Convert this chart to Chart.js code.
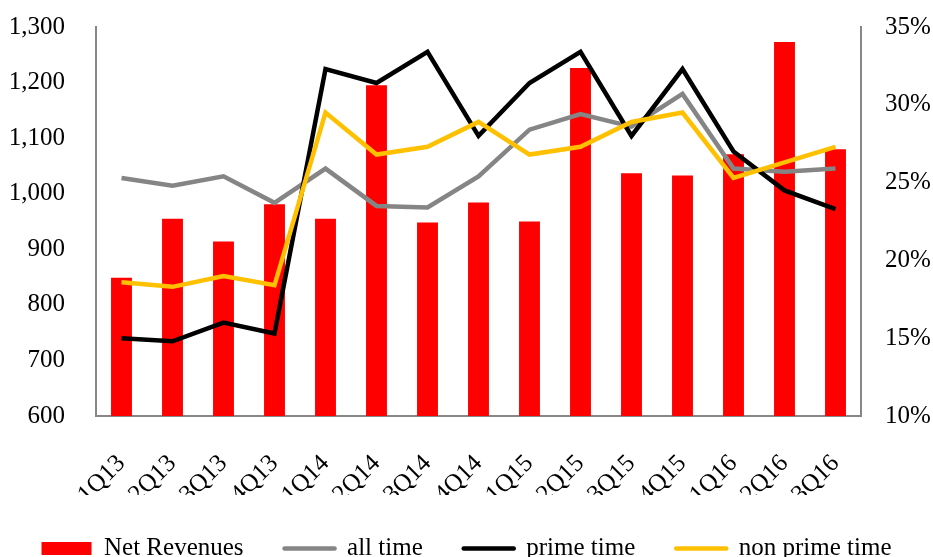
<!DOCTYPE html>
<html>
<head>
<meta charset="utf-8">
<script src="https://cdn.jsdelivr.net/npm/chart.js@4/dist/chart.umd.min.js"></script>
<style>
  html, body { margin: 0; padding: 0; background: #fff; }
  #wrap { width: 933px; height: 557px; }
</style>
</head>
<body>
<div id="wrap"><canvas id="c" width="933" height="557"></canvas></div>
<script>
// Quarterly net revenues (left axis) and audience share by daypart (right axis, %)
const quarters = ['1Q13','2Q13','3Q13','4Q13','1Q14','2Q14','3Q14','4Q14','1Q15','2Q15','3Q15','4Q15','1Q16','2Q16','3Q16'];
const netRevenues = [849, 955, 914, 981, 955, 1195, 948, 984, 950, 1226, 1037, 1033, 1071, 1273, 1080];
const allTime     = [25.3, 24.8, 25.4, 23.7, 25.9, 23.5, 23.4, 25.4, 28.4, 29.4, 28.6, 30.7, 25.9, 25.7, 25.9];
const primeTime   = [15.0, 14.8, 16.0, 15.3, 32.3, 31.4, 33.4, 28.0, 31.4, 33.4, 28.0, 32.3, 27.0, 24.5, 23.3];
const nonPrime    = [18.6, 18.3, 19.0, 18.4, 29.5, 26.8, 27.3, 28.9, 26.8, 27.3, 28.9, 29.5, 25.3, 26.3, 27.3];

const revenueTicks = [600, 700, 800, 900, 1000, 1100, 1200, 1300];
const shareTicks   = [10, 15, 20, 25, 30, 35];

const AXIS_GREY = '#878787';

Chart.defaults.font.family = "'Liberation Serif', 'Times New Roman', serif";
Chart.defaults.font.size = 25;
Chart.defaults.color = '#000';

// Fixed axis sizes; the label gap should not push the plot area down.
function fixWidth(w) {
  return scale => { scale.width = w; scale.paddingTop = 0; scale.paddingBottom = 0; };
}

new Chart(document.getElementById('c'), {
  data: {
    labels: quarters,
    datasets: [
      {
        type: 'bar', label: 'Net Revenues', data: netRevenues, yAxisID: 'y',
        backgroundColor: '#FF0000', borderWidth: 0,
        barPercentage: 0.41, categoryPercentage: 1.0, order: 4
      },
      {
        type: 'line', label: 'all time', data: allTime, yAxisID: 'y1',
        borderColor: '#858585', backgroundColor: '#858585', borderWidth: 4.5,
        pointRadius: 0, tension: 0, order: 3
      },
      {
        type: 'line', label: 'prime time', data: primeTime, yAxisID: 'y1',
        borderColor: '#000000', backgroundColor: '#000000', borderWidth: 4.5,
        pointRadius: 0, tension: 0, order: 2
      },
      {
        type: 'line', label: 'non prime time', data: nonPrime, yAxisID: 'y1',
        borderColor: '#FFC000', backgroundColor: '#FFC000', borderWidth: 4.5,
        pointRadius: 0, tension: 0, order: 1
      }
    ]
  },
  options: {
    responsive: false,
    animation: false,
    layout: { padding: { top: 27, left: 0, right: 0, bottom: -14 } },
    plugins: {
      tooltip: { enabled: false },
      legend: {
        position: 'bottom',
        labels: {
          usePointStyle: true,
          pointStyleWidth: 50,
          boxHeight: 13,
          padding: 41,
          color: '#000',
          generateLabels(chart) {
            return chart.data.datasets.map((ds, i) => ({
              text: ds.label,
              fillStyle: ds.backgroundColor,
              strokeStyle: ds.type === 'line' ? ds.borderColor : ds.backgroundColor,
              lineWidth: ds.type === 'line' ? 4.5 : 0,
              lineCap: 'round',
              pointStyle: ds.type === 'line' ? 'line' : 'rect',
              fontColor: '#000',
              hidden: !chart.isDatasetVisible(i),
              datasetIndex: i
            }));
          }
        }
      }
    },
    scales: {
      x: {
        grid: { display: false, drawTicks: false },
        border: { display: true, color: AXIS_GREY, width: 2 },
        ticks: { minRotation: 45, maxRotation: 45, autoSkip: false, padding: 33 },
        afterFit(scale) { scale.height = 79; }
      },
      y: {
        position: 'left',
        min: 600, max: 1300,
        grid: { display: false, drawTicks: false },
        border: { display: true, color: AXIS_GREY, width: 2 },
        afterBuildTicks(scale) { scale.ticks = revenueTicks.map(v => ({ value: v })); },
        ticks: {
          padding: 31,
          callback: v => v.toLocaleString('en-US')
        },
        afterFit: fixWidth(96)
      },
      y1: {
        position: 'right',
        min: 10, max: 35,
        grid: { display: false, drawTicks: false },
        border: { display: true, color: AXIS_GREY, width: 2 },
        afterBuildTicks(scale) { scale.ticks = shareTicks.map(v => ({ value: v })); },
        ticks: {
          padding: 24,
          callback: v => v + '%'
        },
        afterFit: fixWidth(72)
      }
    }
  }
});
</script>
</body>
</html>
